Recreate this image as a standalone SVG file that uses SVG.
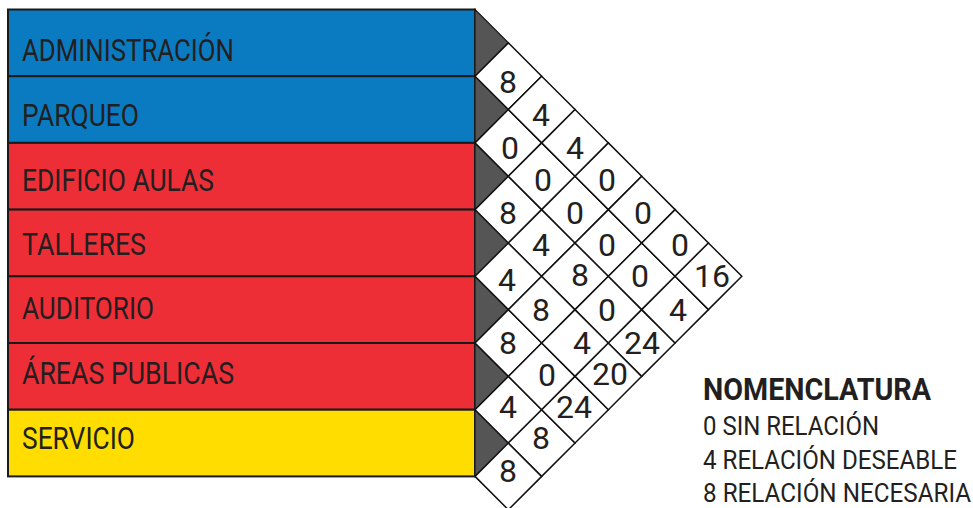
<svg xmlns="http://www.w3.org/2000/svg" xmlns:xlink="http://www.w3.org/1999/xlink" width="973" height="508" viewBox="0 0 973 508">
<style>
.row{stroke:#1a1a1a;stroke-width:2}
.blue{fill:#0a7bc1}.red{fill:#ee2e37}.yel{fill:#ffdd00}
.tri{fill:#555555;stroke:#1a1a1a;stroke-width:1.2}
.lbl{font-family:Roboto,"DejaVu Sans",sans-serif;font-weight:400;font-size:31px;fill:#231f20}
.num{font-family:Roboto,"DejaVu Sans",sans-serif;font-weight:400;font-size:32px;fill:#231f20;text-anchor:middle}
.cell{fill:#ffffff;stroke:#111;stroke-width:1.5;stroke-linejoin:miter}
.leg{font-family:Roboto,"DejaVu Sans",sans-serif;font-weight:400;font-size:26px;fill:#231f20}
.legh{font-family:Roboto,"DejaVu Sans",sans-serif;font-weight:700;font-size:31px;fill:#231f20}
</style>
<defs>
<polygon id="dm" class="cell" points="-33.35,0 0,-33.35 33.35,0 0,33.35"/>
</defs>
<rect width="973" height="508" fill="#ffffff"/>

<g id="row-administracion">
<rect class="row blue" x="8" y="9.5" width="467" height="66.7"/>
<polygon class="tri" points="475,9.5 508.35,42.85 475,76.2"/>
<text class="lbl" x="22" y="61" textLength="212" lengthAdjust="spacingAndGlyphs">ADMINISTRACIÓN</text>
</g>
<g id="row-parqueo">
<rect class="row blue" x="8" y="76.2" width="467" height="66.7"/>
<polygon class="tri" points="475,76.2 508.35,109.55 475,142.9"/>
<text class="lbl" x="22" y="126" textLength="117" lengthAdjust="spacingAndGlyphs">PARQUEO</text>
</g>
<g id="row-edificio-aulas">
<rect class="row red" x="8" y="142.9" width="467" height="66.7"/>
<polygon class="tri" points="475,142.9 508.35,176.25 475,209.6"/>
<text class="lbl" x="22" y="191" textLength="192" lengthAdjust="spacingAndGlyphs">EDIFICIO AULAS</text>
</g>
<g id="row-talleres">
<rect class="row red" x="8" y="209.6" width="467" height="66.7"/>
<polygon class="tri" points="475,209.6 508.35,242.95 475,276.3"/>
<text class="lbl" x="22" y="255" textLength="124" lengthAdjust="spacingAndGlyphs">TALLERES</text>
</g>
<g id="row-auditorio">
<rect class="row red" x="8" y="276.3" width="467" height="66.7"/>
<polygon class="tri" points="475,276.3 508.35,309.65 475,343"/>
<text class="lbl" x="22" y="319" textLength="132" lengthAdjust="spacingAndGlyphs">AUDITORIO</text>
</g>
<g id="row-areas-publicas">
<rect class="row red" x="8" y="343" width="467" height="66.7"/>
<polygon class="tri" points="475,343 508.35,376.35 475,409.7"/>
<text class="lbl" x="22" y="384" textLength="212" lengthAdjust="spacingAndGlyphs">ÁREAS PUBLICAS</text>
</g>
<g id="row-servicio">
<rect class="row yel" x="8" y="409.7" width="467" height="66.7"/>
<polygon class="tri" points="475,409.7 508.35,443.05 475,476.4"/>
<text class="lbl" x="22" y="449" textLength="113" lengthAdjust="spacingAndGlyphs">SERVICIO</text>
</g>

<g id="matrix">
<use xlink:href="#dm" x="508.35" y="76.2"/>
<use xlink:href="#dm" x="508.35" y="142.9"/>
<use xlink:href="#dm" x="508.35" y="209.6"/>
<use xlink:href="#dm" x="508.35" y="276.3"/>
<use xlink:href="#dm" x="508.35" y="343"/>
<use xlink:href="#dm" x="508.35" y="409.7"/>
<use xlink:href="#dm" x="508.35" y="476.4"/>
<use xlink:href="#dm" x="541.7" y="109.55"/>
<use xlink:href="#dm" x="541.7" y="176.25"/>
<use xlink:href="#dm" x="541.7" y="242.95"/>
<use xlink:href="#dm" x="541.7" y="309.65"/>
<use xlink:href="#dm" x="541.7" y="376.35"/>
<use xlink:href="#dm" x="541.7" y="443.05"/>
<use xlink:href="#dm" x="575.05" y="142.9"/>
<use xlink:href="#dm" x="575.05" y="209.6"/>
<use xlink:href="#dm" x="575.05" y="276.3"/>
<use xlink:href="#dm" x="575.05" y="343"/>
<use xlink:href="#dm" x="575.05" y="409.7"/>
<use xlink:href="#dm" x="608.4" y="176.25"/>
<use xlink:href="#dm" x="608.4" y="242.95"/>
<use xlink:href="#dm" x="608.4" y="309.65"/>
<use xlink:href="#dm" x="608.4" y="376.35"/>
<use xlink:href="#dm" x="641.75" y="209.6"/>
<use xlink:href="#dm" x="641.75" y="276.3"/>
<use xlink:href="#dm" x="641.75" y="343"/>
<use xlink:href="#dm" x="675.1" y="242.95"/>
<use xlink:href="#dm" x="675.1" y="309.65"/>
<use xlink:href="#dm" x="708.45" y="276.3"/>

<text class="num" x="508" y="93">8</text>
<text class="num" x="510" y="159">0</text>
<text class="num" x="508" y="224">8</text>
<text class="num" x="507" y="291">4</text>
<text class="num" x="508" y="354">8</text>
<text class="num" x="508" y="418">4</text>
<text class="num" x="508" y="482">8</text>
<text class="num" x="541" y="126">4</text>
<text class="num" x="543" y="191">0</text>
<text class="num" x="541" y="256">4</text>
<text class="num" x="541" y="321">8</text>
<text class="num" x="547" y="386">0</text>
<text class="num" x="541" y="449">8</text>
<text class="num" x="575" y="159">4</text>
<text class="num" x="575" y="224">0</text>
<text class="num" x="580" y="286">8</text>
<text class="num" x="582" y="354">4</text>
<text class="num" x="574" y="418">24</text>
<text class="num" x="607" y="191">0</text>
<text class="num" x="607" y="256">0</text>
<text class="num" x="607" y="321">0</text>
<text class="num" x="610" y="385">20</text>
<text class="num" x="643" y="224">0</text>
<text class="num" x="640" y="287">0</text>
<text class="num" x="642" y="354">24</text>
<text class="num" x="680" y="256">0</text>
<text class="num" x="678" y="321">4</text>
<text class="num" x="712" y="287">16</text>
</g>

<g id="legend">
<text class="legh" x="703" y="400" textLength="228" lengthAdjust="spacingAndGlyphs">NOMENCLATURA</text>
<text class="leg" x="703" y="435" textLength="176" lengthAdjust="spacingAndGlyphs">0 SIN RELACIÓN</text>
<text class="leg" x="703" y="469" textLength="254" lengthAdjust="spacingAndGlyphs">4 RELACIÓN DESEABLE</text>
<text class="leg" x="703" y="502" textLength="268" lengthAdjust="spacingAndGlyphs">8 RELACIÓN NECESARIA</text>
</g>
</svg>
